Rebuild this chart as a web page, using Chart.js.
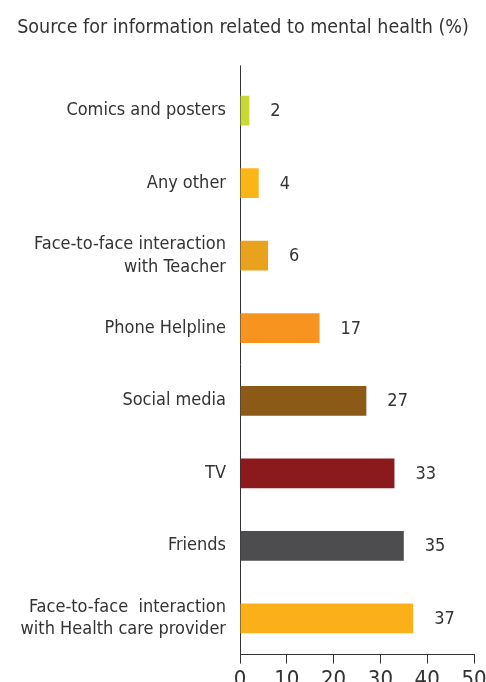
<!DOCTYPE html>
<html lang="en">
<head>
  <meta charset="UTF-8">
  <title>Source for information related to mental health</title>
  <script src="https://cdn.jsdelivr.net/npm/chart.js"></script>
  <style>
    html, body { margin: 0; padding: 0; background: #fff; overflow: hidden; }
    .chart-wrap { position: relative; width: 486px; height: 696px; }
  </style>
</head>
<body>
  <div class="chart-wrap">
    <canvas id="sourceChart"></canvas>
  </div>

  <script>
    // Data, top to bottom
    const categories = [
      'Comics and posters',
      'Any other',
      ['Face-to-face interaction', 'with Teacher'],
      'Phone Helpline',
      'Social media',
      'TV',
      'Friends',
      ['Face-to-face  interaction', 'with Health care provider']
    ];
    const shares = [2, 4, 6, 17, 27, 33, 35, 37];
    const barColors = ['#c9d934', '#fbb516', '#e8a21e', '#f7941f', '#8a5a16', '#8b1a1d', '#4d4d4f', '#fbb01a'];
    const xTicks = [0, 10, 20, 30, 40, 50];

    const FONT = "'DejaVu Sans Condensed', Roboto, sans-serif";
    const TEXT = '#333333';

    // value labels to the right of each bar
    const valueLabels = {
      id: 'valueLabels',
      afterDatasetsDraw(chart) {
        const ctx = chart.ctx;
        const meta = chart.getDatasetMeta(0);
        ctx.save();
        ctx.font = '18px ' + FONT;
        ctx.fillStyle = TEXT;
        ctx.textAlign = 'left';
        ctx.textBaseline = 'middle';
        meta.data.forEach((bar, i) => {
          ctx.fillText(String(shares[i]), bar.x + 21, bar.y + 1);
        });
        ctx.restore();
      }
    };

    // the vertical axis line runs a little above the plot
    const axisStub = {
      id: 'axisStub',
      afterDraw(chart) {
        const { ctx, chartArea } = chart;
        ctx.save();
        ctx.strokeStyle = '#333';
        ctx.lineWidth = 1;
        ctx.beginPath();
        ctx.moveTo(chartArea.left + 0.5, chartArea.top - 9);
        ctx.lineTo(chartArea.left + 0.5, chartArea.top);
        ctx.stroke();
        ctx.restore();
      }
    };

    new Chart(document.getElementById('sourceChart'), {
      type: 'bar',
      data: {
        labels: categories,
        datasets: [{
          data: shares,
          backgroundColor: barColors,
          barPercentage: 0.41,
          categoryPercentage: 1
        }]
      },
      options: {
        indexAxis: 'y',
        responsive: true,
        maintainAspectRatio: false,
        animation: false,
        layout: { padding: 0 },
        plugins: {
          legend: { display: false },
          tooltip: { enabled: false },
          title: {
            display: true,
            text: 'Source for information related to mental health (%)',
            color: TEXT,
            font: { family: FONT, size: 19.5, weight: 'normal' },
            padding: { top: 16, bottom: 35 }
          }
        },
        scales: {
          x: {
            min: 0,
            max: 50,
            afterBuildTicks(scale) {
              scale.ticks = xTicks.map(v => ({ value: v }));
            },
            afterFit(scale) { scale.paddingRight = 12; },
            grid: { drawOnChartArea: false, drawTicks: true, tickLength: 9, color: '#333' },
            border: { display: true, color: '#333', width: 1 },
            ticks: { color: TEXT, padding: 3, font: { family: FONT, size: 22 } }
          },
          y: {
            afterFit(scale) { scale.width = 240; },
            grid: { drawOnChartArea: false, drawTicks: false, color: '#333' },
            border: { display: true, color: '#333', width: 1 },
            ticks: { color: TEXT, padding: 14, font: { family: FONT, size: 18, lineHeight: 1.25 } }
          }
        }
      },
      plugins: [valueLabels, axisStub]
    });
  </script>
</body>
</html>
